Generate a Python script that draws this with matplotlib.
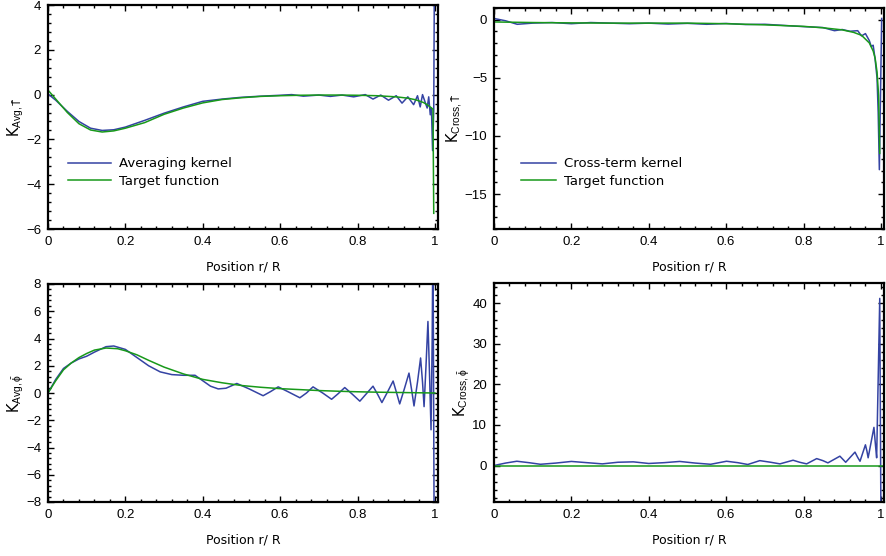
import matplotlib
matplotlib.use("Agg")
import matplotlib.pyplot as plt
from matplotlib.ticker import AutoMinorLocator, MultipleLocator

plt.rcParams['font.family'] = ['DejaVu Sans']
plt.rcParams['mathtext.fontset'] = 'custom'
plt.rcParams['mathtext.rm'] = 'Liberation Sans'
plt.rcParams['mathtext.it'] = 'Liberation Sans:italic'

BLUE = '#3443a3'
GREEN = '#18991a'

# --- top left: averaging kernel, T
tl_tx = [0, 0.02, 0.05, 0.08, 0.11, 0.14, 0.17, 0.2, 0.25, 0.3, 0.35, 0.4, 0.45, 0.5,
         0.55, 0.6, 0.65, 0.7, 0.75, 0.8, 0.85, 0.9, 0.93, 0.95, 0.97, 0.98, 0.99, 0.995, 0.997]
tl_ty = [0.2, -0.2, -0.8, -1.3, -1.58, -1.67, -1.62, -1.5, -1.25, -0.88, -0.6, -0.37, -0.22, -0.14,
         -0.08, -0.05, -0.03, -0.02, -0.02, -0.03, -0.05, -0.1, -0.16, -0.23, -0.35, -0.45, -0.58, -0.65, -5.3]
tl_kx = [0, 0.02, 0.05, 0.08, 0.11, 0.14, 0.17, 0.2, 0.25, 0.3, 0.35, 0.4, 0.45, 0.5, 0.55, 0.6,
         0.63, 0.66, 0.7, 0.73, 0.76, 0.79, 0.82, 0.84, 0.86, 0.88, 0.9, 0.915, 0.93, 0.945, 0.955,
         0.962, 0.968, 0.974, 0.98, 0.984, 0.988, 0.991, 0.994, 0.997, 1.0]
tl_ky = [0.03, -0.25, -0.75, -1.2, -1.5, -1.6, -1.57, -1.45, -1.15, -0.83, -0.55, -0.3, -0.2, -0.12, -0.07, -0.03,
         0.0, -0.07, -0.02, -0.08, -0.02, -0.1, 0.0, -0.2, -0.02, -0.25, -0.05, -0.38, -0.1, -0.45, -0.05,
         -0.55, 0.0, -0.3, -0.6, -0.1, -0.9, -0.6, -2.5, -0.7, 10]

# --- top right: cross-term kernel, T
tr_tx = [0, 0.1, 0.2, 0.3, 0.4, 0.5, 0.6, 0.7, 0.8, 0.85, 0.9, 0.93, 0.95, 0.97, 0.98, 0.985,
         0.99, 0.994, 0.997]
tr_ty = [-0.2, -0.25, -0.28, -0.3, -0.3, -0.3, -0.35, -0.45, -0.58, -0.7, -0.88, -1.1, -1.35, -2.0, -2.7, -3.3,
         -4.5, -6.5, -11.5]
tr_kx = [0, 0.03, 0.06, 0.1, 0.15, 0.2, 0.25, 0.3, 0.35, 0.4, 0.45, 0.5, 0.55, 0.6, 0.65, 0.7, 0.75,
         0.8, 0.85, 0.88, 0.9, 0.92, 0.94, 0.95, 0.96, 0.97, 0.975, 0.98, 0.985, 0.99, 0.993, 0.996, 1.002]
tr_ky = [0.1, -0.1, -0.4, -0.3, -0.25, -0.35, -0.25, -0.3, -0.35, -0.3, -0.38, -0.32, -0.4, -0.33, -0.42, -0.4, -0.5,
         -0.6, -0.68, -0.95, -0.85, -1.0, -0.95, -1.4, -1.2, -1.8, -2.3, -2.2, -3.4, -5.0, -8.0, -12.9, 0.1]

# --- bottom left: averaging kernel, phi
bl_tx = [0, 0.02, 0.04, 0.06, 0.08, 0.1, 0.12, 0.15, 0.18, 0.2, 0.23, 0.26, 0.3, 0.35, 0.4, 0.45,
         0.5, 0.55, 0.6, 0.65, 0.7, 0.75, 0.8, 0.85, 0.9, 0.95, 1.0]
bl_ty = [0, 0.9, 1.7, 2.2, 2.6, 2.9, 3.15, 3.3, 3.25, 3.1, 2.8, 2.4, 1.9, 1.4, 1.0, 0.75,
         0.55, 0.42, 0.32, 0.25, 0.18, 0.13, 0.09, 0.06, 0.04, 0.02, 0.0]
bl_kx = [0, 0.02, 0.04, 0.06, 0.08, 0.1, 0.12, 0.15, 0.17, 0.2, 0.23, 0.26, 0.29, 0.32, 0.35, 0.38,
         0.4, 0.42, 0.44, 0.46, 0.488, 0.52, 0.556, 0.575, 0.595, 0.62, 0.651, 0.668, 0.685, 0.71,
         0.733, 0.75, 0.767, 0.787, 0.806, 0.823, 0.84, 0.852, 0.863, 0.878, 0.892, 0.9, 0.909, 0.921,
         0.933, 0.94, 0.946, 0.955, 0.963, 0.968, 0.972, 0.977, 0.982, 0.986, 0.99, 0.993, 0.995, 0.998]
bl_ky = [0, 1.0, 1.8, 2.2, 2.5, 2.7, 3.0, 3.4, 3.45, 3.2, 2.6, 2.0, 1.55, 1.35, 1.3, 1.3,
         0.9, 0.5, 0.3, 0.35, 0.7, 0.3, -0.2, 0.1, 0.45, 0.1, -0.35, 0.0, 0.45, 0.0,
         -0.46, -0.05, 0.4, -0.1, -0.6, -0.05, 0.5, -0.1, -0.7, 0.1, 0.88, 0.1, -0.8, 0.3,
         1.46, 0.2, -0.95, 0.8, 2.57, 0.8, -1.0, 2.0, 5.25, 1.5, -2.7, 4.0, 12, -10]

# --- bottom right: cross-term kernel, phi
br_tx = [0, 1.005]
br_ty = [0, 0]
br_kx = [0, 0.03, 0.059, 0.09, 0.12, 0.16, 0.2, 0.24, 0.28, 0.32, 0.36, 0.4, 0.44, 0.48, 0.52, 0.56,
         0.601, 0.63, 0.656, 0.687, 0.715, 0.739, 0.773, 0.79, 0.808, 0.834, 0.85, 0.863, 0.894, 0.902,
         0.909, 0.933, 0.94, 0.946, 0.96, 0.964, 0.967, 0.982, 0.986, 0.989, 0.997, 1.0]
br_ky = [0, 0.6, 1.05, 0.7, 0.3, 0.6, 1.0, 0.7, 0.4, 0.8, 0.9, 0.5, 0.7, 1.0, 0.6, 0.3,
         1.05, 0.7, 0.25, 1.2, 0.8, 0.4, 1.3, 0.8, 0.4, 1.7, 1.2, 0.65, 2.3, 1.5,
         0.8, 3.3, 2.0, 1.05, 5.1, 3.5, 1.9, 9.4, 5.0, 1.9, 41.2, -12]

fig = plt.figure(figsize=(8.86, 5.56), dpi=100)

W = 886.0
H = 556.0


def make_ax(l, t, r, b):
    return fig.add_axes([l / W, 1 - b / H, (r - l) / W, (b - t) / H])


ax_tl = make_ax(48, 5, 438, 229)
ax_tr = make_ax(494, 8, 884, 229)
ax_bl = make_ax(48, 284, 438, 502)
ax_br = make_ax(494, 283, 884, 502)

panels = [
    (ax_tl, tl_kx, tl_ky, tl_tx, tl_ty, (-6, 4), 2, r'K$_{\rm Avg,\bar{T}}$', 'Averaging kernel'),
    (ax_tr, tr_kx, tr_ky, tr_tx, tr_ty, (-18, 1), 5, r'K$_{\rm Cross,\bar{T}}$', 'Cross-term kernel'),
    (ax_bl, bl_kx, bl_ky, bl_tx, bl_ty, (-8, 8), 2, r'K$_{\rm Avg,\bar{\phi}}$', None),
    (ax_br, br_kx, br_ky, br_tx, br_ty, (-9, 45), 10, r'K$_{\rm Cross,\bar{\phi}}$', None),
]

for ax, kx, ky, tx, ty, ylim, ystep, ylab, kname in panels:
    ax.plot(kx, ky, color=BLUE, lw=1.1, label=kname)
    ax.plot(tx, ty, color=GREEN, lw=1.1, label='Target function')
    ax.set_xlim(0, 1.008)
    ax.set_ylim(*ylim)
    ax.xaxis.set_major_locator(MultipleLocator(0.2))
    ax.yaxis.set_major_locator(MultipleLocator(ystep))
    ax.xaxis.set_minor_locator(AutoMinorLocator(5))
    ax.yaxis.set_minor_locator(AutoMinorLocator(5))
    ax.tick_params(which='both', direction='in', top=True, right=True, width=1.0)
    ax.tick_params(which='major', length=4, labelsize=9.5, pad=5)
    ax.tick_params(which='minor', length=2.5)
    for lab in ax.get_xticklabels() + ax.get_yticklabels():
        lab.set_fontfamily('Liberation Sans')
    ax.xaxis.set_major_formatter(plt.FuncFormatter(lambda v, p: '%g' % round(v, 2)))
    ax.yaxis.set_major_formatter(plt.FuncFormatter(lambda v, p: ('%g' % v).replace('-', '\u2212')))
    for s in ax.spines.values():
        s.set_linewidth(1.6)
    ax.set_xlabel('Position r/ R', fontsize=9, labelpad=9)
    ax.set_ylabel(ylab, fontsize=10.5, labelpad=0)

ax_tl.legend(loc='upper left', bbox_to_anchor=(0.05, 0.32), frameon=False, fontsize=9.5,
             handlelength=3.3, handletextpad=0.6, borderpad=0, borderaxespad=0, labelspacing=0.35)
ax_tr.legend(loc='upper left', bbox_to_anchor=(0.07, 0.325), frameon=False, fontsize=9.5,
             handlelength=2.6, handletextpad=0.6, borderpad=0, borderaxespad=0, labelspacing=0.35)

fig.savefig('out.png', dpi=100)
